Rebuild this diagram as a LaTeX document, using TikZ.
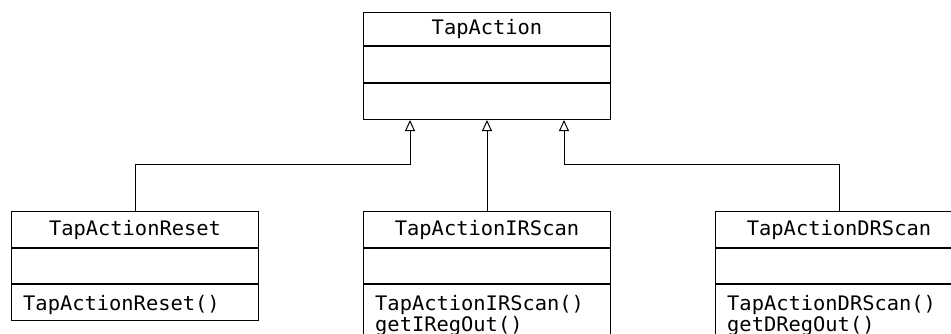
\documentclass[tikz,border=0pt]{standalone}
\usepackage{fontspec}
\setmonofont[FakeStretch=1.02]{DejaVu Sans Mono}
\usetikzlibrary{arrows.meta}
\begin{document}
\begin{tikzpicture}[x=1pt,y=-1pt,
  comp/.style={draw, line width=1pt, minimum width=247pt, inner sep=0pt,
    anchor=north west, font=\ttfamily\fontsize{20}{21}\selectfont},
  member/.style={anchor=base west, inner sep=0pt,
    font=\ttfamily\fontsize{20}{21}\selectfont},
  generalization/.style={draw, line width=1pt,
    -{Triangle[open, width=10pt, length=11pt, line width=1pt]}}]
  \clip (0,0) rectangle (951,333);

  % base class
  \node[comp, minimum height=33pt] (top-n) at (363,12) {TapAction};
  \node[comp, minimum height=36pt] (top-a) at (top-n.south west) {};
  \node[comp, minimum height=36pt] (top-m) at (top-a.south west) {};

  % TapActionReset
  \node[comp, minimum height=36pt] (reset-n) at (11,211) {TapActionReset};
  \node[comp, minimum height=35pt] (reset-a) at (reset-n.south west) {};
  \node[comp, minimum height=36pt] (reset-m) at (reset-a.south west) {};
  \node[member] (reset-m1) at ([shift={(12,26)}]reset-m.north west) {TapActionReset()};

  % TapActionIRScan
  \node[comp, minimum height=36pt] (ir-n) at (363,211) {TapActionIRScan};
  \node[comp, minimum height=35pt] (ir-a) at (ir-n.south west) {};
  \node[comp, minimum height=70pt] (ir-m) at (ir-a.south west) {};
  \node[member] (ir-m1) at ([shift={(12,26)}]ir-m.north west) {TapActionIRScan()};
  \node[member] (ir-m2) at ([shift={(12,47)}]ir-m.north west) {getIRegOut()};

  % TapActionDRScan
  \node[comp, minimum height=36pt] (dr-n) at (715,211) {TapActionDRScan};
  \node[comp, minimum height=35pt] (dr-a) at (dr-n.south west) {};
  \node[comp, minimum height=70pt] (dr-m) at (dr-a.south west) {};
  \node[member] (dr-m1) at ([shift={(12,26)}]dr-m.north west) {TapActionDRScan()};
  \node[member] (dr-m2) at ([shift={(12,47)}]dr-m.north west) {getDRegOut()};

  % inheritance connectors
  \coordinate (tip-l) at ([xshift=-77pt]top-m.south);
  \coordinate (tip-r) at ([xshift=77pt]top-m.south);
  \coordinate (bend-l) at (tip-l |- 0,164);
  \coordinate (bend-r) at (tip-r |- 0,164);
  \draw[generalization] (reset-n.north) |- (bend-l) -- (tip-l);
  \draw[generalization] (ir-n.north) -- (top-m.south);
  \draw[generalization] (dr-n.north) |- (bend-r) -- (tip-r);
\end{tikzpicture}
\end{document}
